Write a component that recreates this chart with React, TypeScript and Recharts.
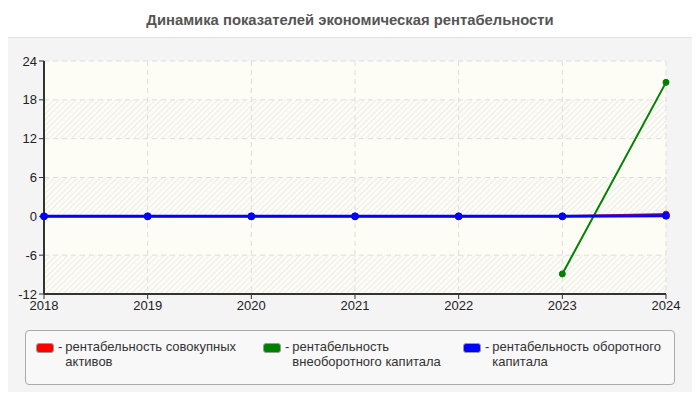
import { LineChart, Line, XAxis, YAxis, CartesianGrid, ReferenceArea } from 'recharts'

const years = ['2018', '2019', '2020', '2021', '2022', '2023', '2024']
const totalAssets = [0, 0, 0, 0, 0, 0, 0.35]
const fixedCapital = [null, null, null, null, null, -8.9, 20.7]
const workingCapital = [0, 0, 0, 0, 0, 0, 0.1]
const yTicks = [-12, -6, 0, 6, 12, 18, 24]
const hatchBands = [
  [-12, -6],
  [0, 6],
  [12, 18],
]

const seriesNames = [
  ['рентабельность совокупных', 'активов'],
  ['рентабельность', 'внеоборотного капитала'],
  ['рентабельность оборотного', 'капитала'],
]
const seriesColors = ['#ff0000', '#008000', '#0000ff']
const legendLeft = [10, 237, 437]

const font = '"Liberation Sans", Arial, sans-serif'

export default function App() {
  const chartData = years.map((year, i) => ({
    year,
    totalAssets: totalAssets[i],
    fixedCapital: fixedCapital[i],
    workingCapital: workingCapital[i],
  }))

  return (
    <div style={{ position: 'relative', width: 700, height: 400, margin: -8, fontFamily: font, background: '#fff' }}>
      <div
        style={{
          position: 'absolute',
          left: 0,
          top: 0,
          width: 700,
          height: 38,
          textAlign: 'center',
          lineHeight: '40px',
          fontSize: 14.8,
          fontWeight: 'bold',
          color: '#555',
        }}
      >
        Динамика показателей экономическая рентабельности
      </div>
      <div
        style={{
          position: 'absolute',
          left: 1,
          top: 37,
          width: 696,
          height: 360,
          background: '#f4f4f4',
          border: '1px solid #e2e2e2',
          borderRadius: 6,
        }}
      />
      <div style={{ position: 'absolute', left: 0, top: 0 }}>
        <LineChart width={700} height={400} data={chartData} margin={{ top: 61, right: 34, left: 4, bottom: 76 }}>
          <defs>
            <pattern id="hatch" patternUnits="userSpaceOnUse" width="4" height="4" patternTransform="rotate(45)">
              <line x1="0" y1="0" x2="0" y2="4" stroke="#e6e6e6" strokeWidth="1.5" />
            </pattern>
          </defs>
          <CartesianGrid fill="#fdfdf6" stroke="#dddddd" strokeDasharray="5 4" />
          {hatchBands.map(([a, b]) => (
            <ReferenceArea key={a} y1={a} y2={b} fill="url(#hatch)" fillOpacity={1} strokeOpacity={0} ifOverflow="hidden" />
          ))}
          <XAxis
            dataKey="year"
            height={30}
            axisLine={{ stroke: '#333', strokeWidth: 2 }}
            tickLine={{ stroke: '#333' }}
            tickSize={5}
            tick={{ fontSize: 13, fill: '#222', fontFamily: font }}
          />
          <YAxis
            width={40}
            domain={[-12, 24]}
            ticks={yTicks}
            interval={0}
            axisLine={{ stroke: '#333', strokeWidth: 2 }}
            tickLine={{ stroke: '#333' }}
            tickSize={5}
            tick={{ fontSize: 13, fill: '#222', fontFamily: font }}
          />
          <Line
            dataKey="totalAssets"
            stroke="#ff0000"
            strokeWidth={2}
            dot={{ r: 3, fill: '#ff0000', stroke: '#ff0000', strokeWidth: 1 }}
            isAnimationActive={false}
          />
          <Line
            dataKey="fixedCapital"
            stroke="#008000"
            strokeWidth={2}
            dot={{ r: 3, fill: '#008000', stroke: '#008000', strokeWidth: 1 }}
            isAnimationActive={false}
          />
          <Line
            dataKey="workingCapital"
            stroke="#0000ff"
            strokeWidth={3}
            dot={{ r: 3.5, fill: '#0000ff', stroke: '#0000ff', strokeWidth: 1 }}
            isAnimationActive={false}
          />
        </LineChart>
      </div>
      <div
        style={{
          position: 'absolute',
          left: 25,
          top: 330,
          width: 648,
          height: 53,
          background: '#f8f8f8',
          border: '1px solid #aaa',
          borderRadius: 4,
        }}
      >
        {seriesNames.map((lines, i) => (
          <div
            key={i}
            style={{
              position: 'absolute',
              left: legendLeft[i],
              top: 8,
              display: 'flex',
              fontSize: 13,
              color: '#333',
              whiteSpace: 'nowrap',
            }}
          >
            <div
              style={{
                width: 16,
                height: 8,
                marginTop: 4,
                background: seriesColors[i],
                border: '1px solid #999',
                borderRadius: 3,
              }}
            />
            <div style={{ marginLeft: 4, marginRight: 3, lineHeight: '15px' }}>-</div>
            <div style={{ lineHeight: '15px' }}>
              {lines[0]}
              <br />
              {lines[1]}
            </div>
          </div>
        ))}
      </div>
    </div>
  )
}
